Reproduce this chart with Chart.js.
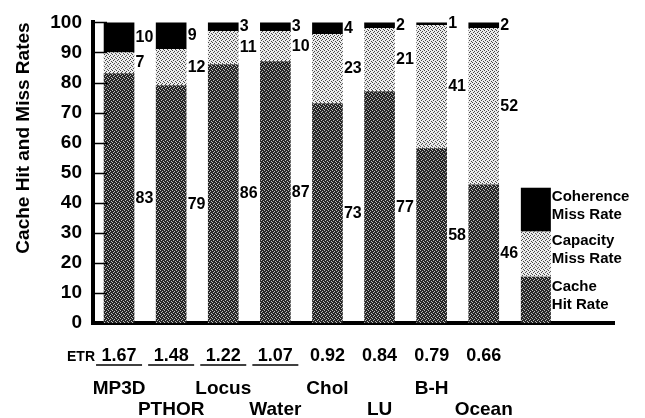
<!DOCTYPE html>
<html>
<head>
<meta charset="utf-8">
<script src="https://cdn.jsdelivr.net/npm/chart.js@4/dist/chart.umd.min.js"></script>
<style>
  body { margin: 0; background: #fff; }
  canvas { display: block; }
</style>
</head>
<body>
<canvas id="myChart" width="645" height="418"></canvas>
<script>
// data
var categories = ["MP3D", "PTHOR", "Locus", "Water", "Chol", "LU", "B-H", "Ocean"];
var hitRate = [83, 79, 86, 87, 73, 77, 58, 46];
var capacityMiss = [7, 12, 11, 10, 23, 21, 41, 52];
var coherenceMiss = [10, 9, 3, 3, 4, 2, 1, 2];
var etrValues = ["1.67", "1.48", "1.22", "1.07", "0.92", "0.84", "0.79", "0.66"];
var yTickStep = 10;

var legendLabels = [["Cache", "Hit Rate"], ["Capacity", "Miss Rate"], ["Coherence", "Miss Rate"]];
// the legend swatch is stacked like a bar in the slot after Ocean
var legendStops = [0, 15.5, 30.5, 45];

var FONT = '"Liberation Sans", Arial, Helvetica, sans-serif';
Chart.defaults.font.family = FONT;
Chart.defaults.color = "#000";

// halftone-ish fills like the scanned figure
function makePattern(rows, colors) {
  var c = document.createElement("canvas");
  c.width = rows[0].length;
  c.height = rows.length;
  var g = c.getContext("2d");
  for (var y = 0; y < rows.length; y++) {
    for (var x = 0; x < rows[y].length; x++) {
      g.fillStyle = colors[rows[y][x]];
      g.fillRect(x, y, 1, 1);
    }
  }
  return g.createPattern(c, "repeat");
}
var dots = ["0100", "0001", "1000", "0010"];
var hitFill = makePattern(dots, { "0": "#262626", "1": "#bdbdbd" });
var capFill = makePattern(dots, { "0": "#ebebeb", "1": "#444444" });
var cohFill = "#000";
var fills = [hitFill, capFill, cohFill];

var labels = categories.concat(["", ""]);

var extrasPlugin = {
  id: "extras",
  afterDatasetsDraw: function(chart) {
    var ctx = chart.ctx;
    var xs = chart.scales.x, ys = chart.scales.y;
    var area = chart.chartArea;
    ctx.save();

    // tick marks pointing into the plot
    ctx.strokeStyle = "#000";
    ctx.lineWidth = 1.5;
    for (var v = yTickStep; v <= 100; v += yTickStep) {
      var ty = Math.round(ys.getPixelForValue(v)) + 0.5;
      ctx.beginPath();
      ctx.moveTo(area.left, ty);
      ctx.lineTo(area.left + 14, ty);
      ctx.stroke();
    }

    // value labels to the right of each segment
    ctx.fillStyle = "#000";
    ctx.font = "bold 16px " + FONT;
    ctx.textAlign = "left";
    ctx.textBaseline = "middle";
    chart.data.datasets.forEach(function(ds, di) {
      var meta = chart.getDatasetMeta(di);
      meta.data.forEach(function(bar, i) {
        if (ds.data[i] == null) return;
        var p = bar.getProps(["x", "y", "base", "width"], true);
        ctx.fillText(String(ds.data[i]), p.x + p.width / 2 + 1.5, (p.y + p.base) / 2);
      });
    });

    // legend swatch drawn as a stacked column in slot 8
    var lx = xs.getPixelForValue(categories.length);
    var bw = 30;
    for (var k = 0; k < 3; k++) {
      var yTop = ys.getPixelForValue(legendStops[k + 1]);
      var yBot = ys.getPixelForValue(legendStops[k]);
      ctx.fillStyle = fills[k];
      ctx.fillRect(lx - bw / 2, yTop, bw, yBot - yTop);
      var mid = (yTop + yBot) / 2;
      ctx.fillStyle = "#000";
      ctx.font = "bold 15px " + FONT;
      ctx.textAlign = "left";
      ctx.fillText(legendLabels[k][0], lx + bw / 2 + 1, mid - 13);
      ctx.fillText(legendLabels[k][1], lx + bw / 2 + 1, mid + 5);
    }

    // ETR row and staggered benchmark names
    ctx.fillStyle = "#000";
    ctx.textBaseline = "middle";
    ctx.textAlign = "right";
    ctx.font = "bold 14px " + FONT;
    ctx.fillText("ETR", 95, 357);
    ctx.textAlign = "center";
    categories.forEach(function(name, i) {
      var cx = xs.getPixelForValue(i);
      ctx.font = "bold 18px " + FONT;
      ctx.fillText(etrValues[i], cx, 356);
      if (parseFloat(etrValues[i]) > 1) {
        ctx.lineWidth = 1.5;
        ctx.beginPath();
        ctx.moveTo(cx - 23, 365);
        ctx.lineTo(cx + 23, 365);
        ctx.stroke();
      }
      ctx.font = "bold 19px " + FONT;
      ctx.fillText(name, cx, i % 2 === 0 ? 389 : 410);
    });

    ctx.restore();
  }
};

var ctx = document.getElementById("myChart").getContext("2d");
var myChart = new Chart(ctx, {
  type: "bar",
  data: {
    labels: labels,
    datasets: [
      { label: "Cache Hit Rate", data: hitRate, backgroundColor: hitFill },
      { label: "Capacity Miss Rate", data: capacityMiss, backgroundColor: capFill },
      { label: "Coherence Miss Rate", data: coherenceMiss, backgroundColor: cohFill }
    ]
  },
  options: {
    responsive: false,
    animation: false,
    barThickness: 30,
    layout: { padding: { left: 0, right: 31, top: 15, bottom: 95 } },
    plugins: {
      legend: { display: false },
      tooltip: { enabled: false }
    },
    scales: {
      x: {
        stacked: true,
        grid: { display: false, drawTicks: false },
        border: { display: true, width: 4, color: "#000" },
        ticks: { display: false }
      },
      y: {
        stacked: true,
        min: 0,
        max: 100,
        grid: { display: false, drawTicks: false },
        border: { display: true, width: 4, color: "#000" },
        ticks: {
          stepSize: yTickStep,
          padding: 11,
          font: { size: 19, weight: "bold" },
          color: "#000"
        },
        title: {
          display: true,
          text: "Cache Hit and Miss Rates",
          align: "end",
          color: "#000",
          font: { size: 19, weight: "bold" },
          padding: { top: 12, bottom: 0 }
        },
        afterFit: function(scale) { scale.width = 93; }
      }
    }
  },
  plugins: [extrasPlugin]
});
</script>
</body>
</html>
